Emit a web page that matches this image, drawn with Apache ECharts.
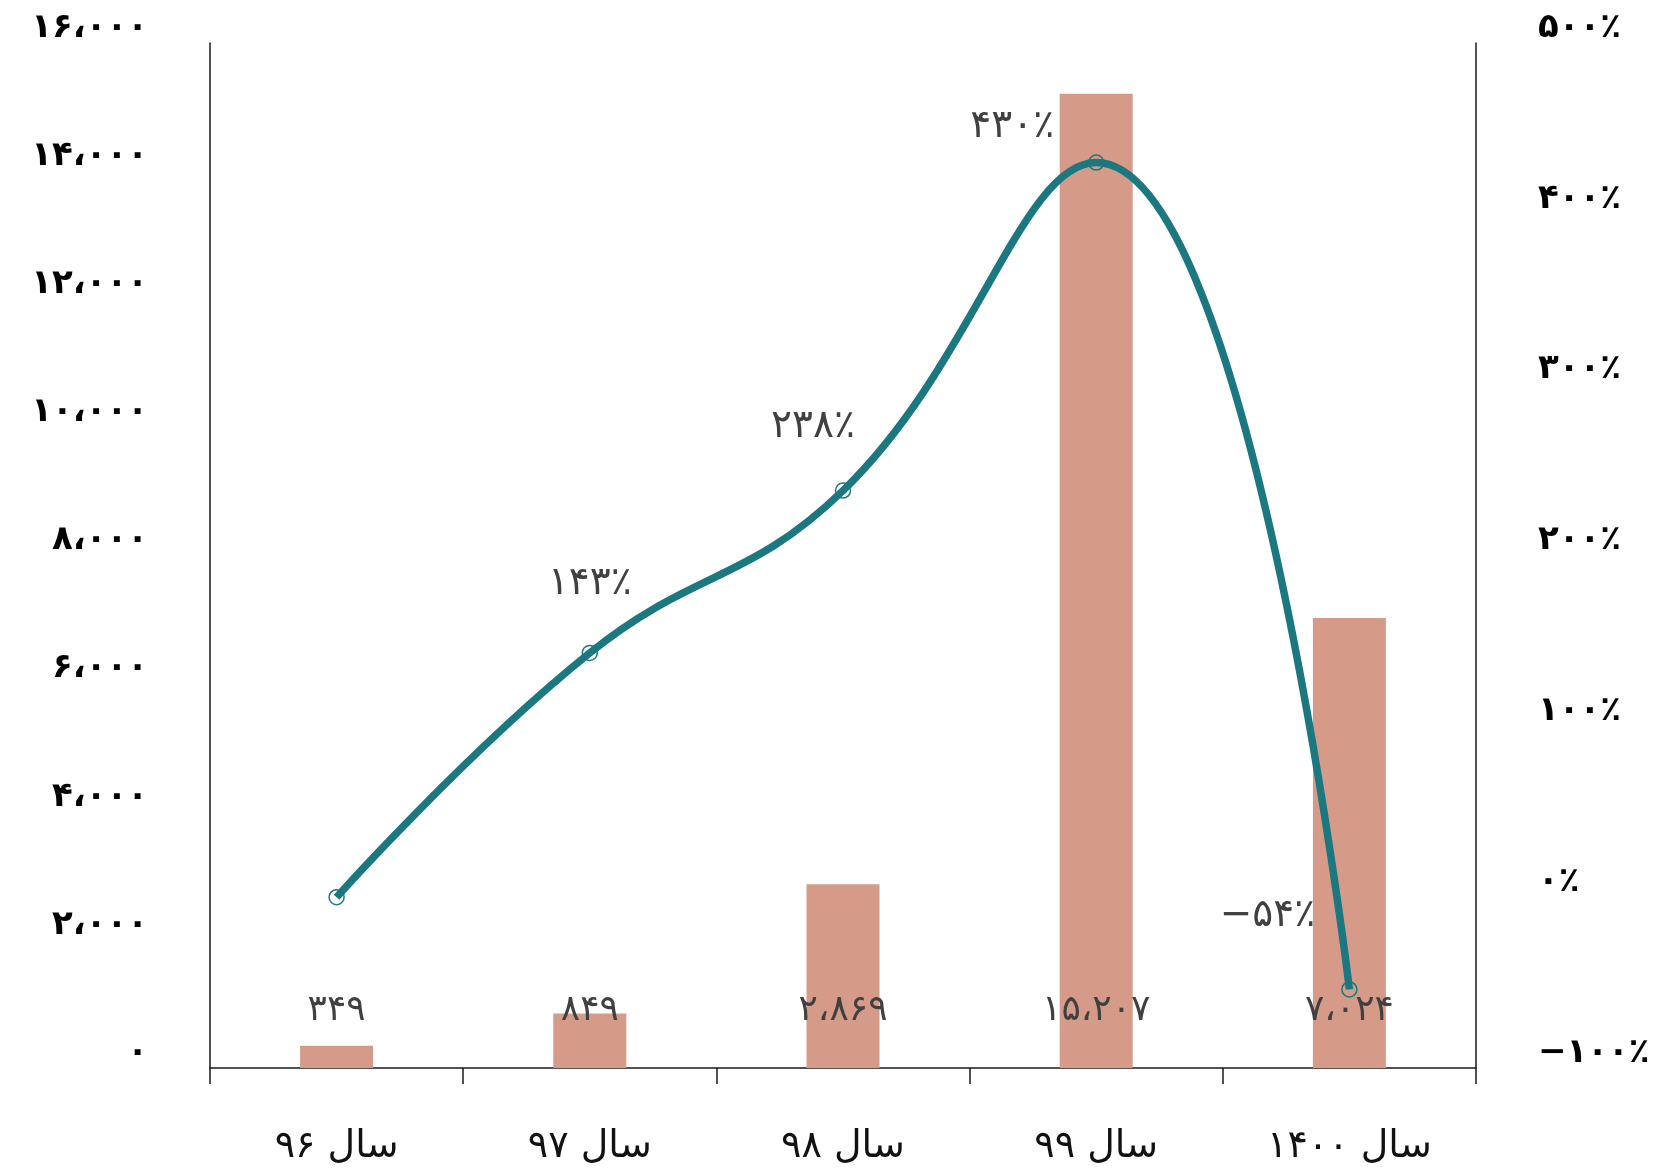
<!DOCTYPE html>
<html>
<head>
<meta charset="utf-8">
<script src="https://cdn.jsdelivr.net/npm/echarts@6/dist/echarts.min.js"></script>
<style>
html,body{margin:0;padding:0;background:#fff;}
#chart{width:1675px;height:1171px;}
</style>
</head>
<body>
<div id="chart"></div>
<script>
// ---- data ----
var categories = ['سال ۹۶', 'سال ۹۷', 'سال ۹۸', 'سال ۹۹', 'سال ۱۴۰۰'];
var barValues = [349, 849, 2869, 15207, 7024];
var growthValues = [0, 143, 238, 430, -54];
var leftTicks = [0, 2000, 4000, 6000, 8000, 10000, 12000, 14000, 16000];
var rightTicks = [-100, 0, 100, 200, 300, 400, 500];

// ---- helpers ----
var FA = ['۰','۱','۲','۳','۴','۵','۶','۷','۸','۹'];
function toFa(n) {
  var neg = n < 0;
  var s = String(Math.abs(Math.round(n)));
  s = s.replace(/\B(?=(\d{3})+(?!\d))/g, '،');
  s = s.replace(/\d/g, function (d) { return FA[+d]; });
  return (neg ? '−' : '') + s;
}
function pct(n) { return toFa(n) + '٪'; }

var FONT = 'DejaVu Sans';
var TEAL = '#1b7880';
var BAR = '#d69b88';

// label offsets for the line labels (styling, not data)
var lineLabelOffsets = [[0, 0], [0, -69], [-30, -64], [-84, -36], [-82, -74]];

var lineData = growthValues.map(function (v, i) {
  return {
    value: v,
    label: { show: i > 0, offset: lineLabelOffsets[i] }
  };
});

var chart = echarts.init(document.getElementById('chart'), null, { renderer: 'canvas' });
chart.setOption({
  animation: false,
  backgroundColor: '#ffffff',
  grid: { left: 210, right: 199, top: 43, bottom: 103, containLabel: false },
  xAxis: {
    type: 'category',
    data: categories,
    boundaryGap: true,
    axisLine: { lineStyle: { color: '#1a1a1a', width: 1.5 } },
    axisTick: { show: true, length: 16, lineStyle: { color: '#1a1a1a', width: 1.5 } },
    axisLabel: { color: '#111', fontFamily: FONT, fontSize: 38, margin: 60 }
  },
  yAxis: [
    {
      type: 'value',
      min: leftTicks[0],
      max: leftTicks[leftTicks.length - 1],
      interval: 2000,
      position: 'left',
      axisLine: { show: true, lineStyle: { color: '#1a1a1a', width: 1.5 } },
      axisTick: { show: false },
      splitLine: { show: false },
      axisLabel: {
        color: '#000', fontFamily: FONT, fontSize: 34, fontWeight: 'bold', margin: 62,
        verticalAlign: 'bottom', lineHeight: 30,
        formatter: function (v) { return toFa(v); }
      }
    },
    {
      type: 'value',
      min: rightTicks[0],
      max: rightTicks[rightTicks.length - 1],
      interval: 100,
      position: 'right',
      axisLine: { show: true, lineStyle: { color: '#1a1a1a', width: 1.5 } },
      axisTick: { show: false },
      splitLine: { show: false },
      axisLabel: {
        color: '#000', fontFamily: FONT, fontSize: 34, fontWeight: 'bold', margin: 62,
        verticalAlign: 'bottom', lineHeight: 30,
        formatter: function (v) { return pct(v); }
      }
    }
  ],
  series: [
    {
      type: 'bar',
      yAxisIndex: 0,
      data: barValues,
      barWidth: 73,
      itemStyle: { color: BAR },
      label: {
        show: true,
        position: 'insideBottom',
        distance: 39,
        color: '#404040',
        fontFamily: FONT,
        fontSize: 36,
        formatter: function (p) { return toFa(p.value); }
      },
      z: 1
    },
    {
      type: 'line',
      yAxisIndex: 1,
      data: lineData,
      smooth: 0.45,
      symbol: 'circle',
      symbolSize: 15,
      lineStyle: { color: TEAL, width: 7.5 },
      itemStyle: { color: 'rgba(0,0,0,0)', borderColor: TEAL, borderWidth: 1.5 },
      label: {
        position: 'inside',
        color: '#404040',
        fontFamily: FONT,
        fontSize: 39,
        formatter: function (p) { return pct(p.value); }
      },
      z: 3
    }
  ]
});
</script>
</body>
</html>
